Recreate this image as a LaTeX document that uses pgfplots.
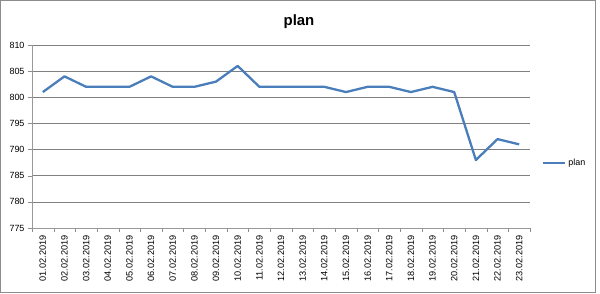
\documentclass[border=0pt]{standalone}
\usepackage{fontspec}
\setmainfont{Liberation Sans}
\usepackage{pgfplots}
\pgfplotsset{compat=1.18}
\definecolor{lineblue}{RGB}{74,126,187}
\begin{document}
\begin{tikzpicture}[x=1bp,y=1bp]
\useasboundingbox (0,0) rectangle (600,293);
\draw[black!45,line width=0.9bp] (0.5,0.8) rectangle (595.5,292.5);
\node[font=\fontsize{15}{17}\selectfont\bfseries] at (299,271) {plan};
\begin{axis}[
  at={(32bp,65bp)}, anchor=south west,
  scale only axis, width=498bp, height=183bp,
  xmin=-0.5, xmax=22.5, ymin=775, ymax=810,
  ytick={775,780,...,810},
  xtick={0,...,22},
  xticklabels={01.02.2019,02.02.2019,03.02.2019,04.02.2019,05.02.2019,06.02.2019,07.02.2019,08.02.2019,09.02.2019,10.02.2019,11.02.2019,12.02.2019,13.02.2019,14.02.2019,15.02.2019,16.02.2019,17.02.2019,18.02.2019,19.02.2019,20.02.2019,21.02.2019,22.02.2019,23.02.2019},
  minor xtick={-0.5,0.5,...,22.5},
  x tick label style={rotate=90, anchor=east, font=\fontsize{9.2}{10}\selectfont},
  y tick label style={font=\fontsize{9}{10}\selectfont},
  /pgf/number format/assume math mode=true,
  tick align=outside,
  major x tick style={draw=none},
  minor x tick style={black!45},
  minor tick length=4bp,
  major tick length=4bp,
  y tick style={black!45},
  ymajorgrids, grid style={black!50, line width=0.7bp},
  axis x line*=bottom, axis y line*=left,
  axis line style={black!40, line width=0.9bp},
  x axis line style={-}, y axis line style={-},
  legend style={draw=none, fill=none, at={(axis description cs:1.024,0.355)}, anchor=west, font=\fontsize{9}{10}\selectfont, inner sep=0pt},
  legend cell align=left,
  legend image code/.code={\draw[#1] (0bp,0bp) -- (22bp,0bp);},
]
\addplot[lineblue, line width=2.3bp, line join=round] coordinates {
(0,801) (1,804) (2,802) (3,802) (4,802) (5,804) (6,802) (7,802) (8,803) (9,806) (10,802) (11,802) (12,802) (13,802) (14,801) (15,802) (16,802) (17,801) (18,802) (19,801) (20,788) (21,792) (22,791)
};
\addlegendentry{plan}
\end{axis}
\end{tikzpicture}
\end{document}
